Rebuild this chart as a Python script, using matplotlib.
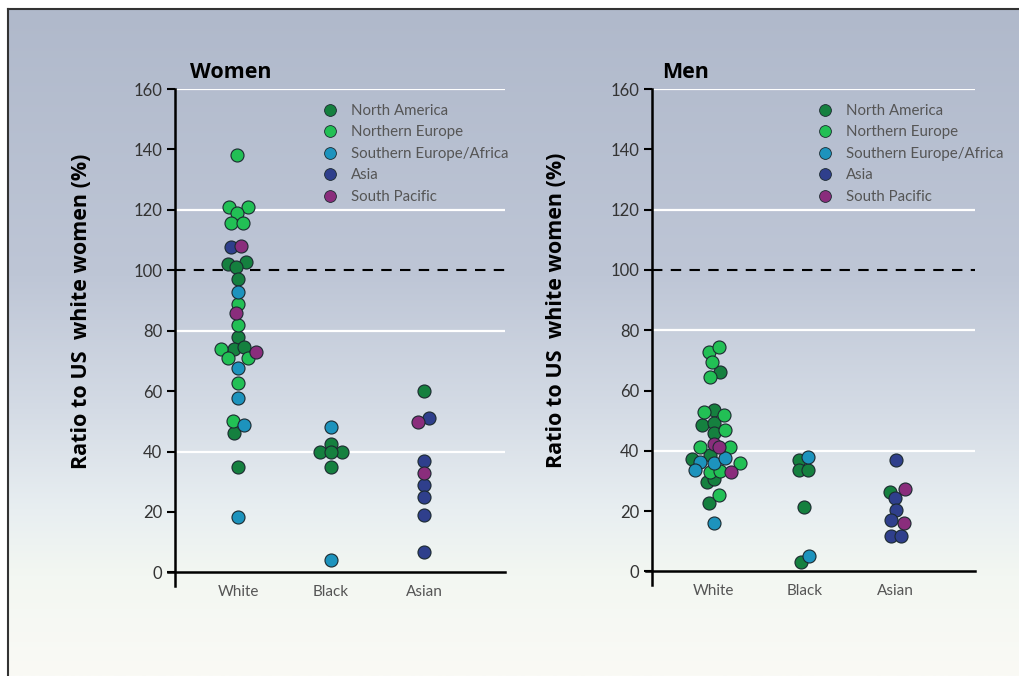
import matplotlib.pyplot as plt
from matplotlib.lines import Line2D
import numpy as np

categories = ["White", "Black", "Asian"]
regions = ["North America", "Northern Europe", "Southern Europe/Africa", "Asia", "South Pacific"]
colors = ["#15803f", "#22c055", "#1d93bd", "#2f3f8c", "#8a2d7c"]

# values, per region: category index, value, small sideways offset
women_na_cat = [0, 0, 0, 0, 0, 0, 0, 0, 0, 1, 1, 1, 1, 1, 2]
women_na_val = [102, 102.6, 101, 97, 78, 74, 74.5, 46, 35, 42.4, 40, 40, 39.7, 34.8, 60]
women_na_dx = [-10, 8, -2, 0, 0, -4, 6, -4, 0, 0, -11, 11, 0, 0, 0]

women_ne_cat = [0] * 13
women_ne_val = [138, 121, 121, 119, 115.5, 115.5, 89, 82, 74, 71, 71, 62.6, 50]
women_ne_dx = [-1, -9, 10, -1, -7, 5, 0, 0, -17, -10, 10, 0, -5]

women_se_cat = [0, 0, 0, 0, 0, 1, 1]
women_se_val = [92.7, 67.5, 57.6, 48.7, 18.2, 48, 4]
women_se_dx = [0, 0, 0, 6, 0, 0, 0]

women_as_cat = [0, 2, 2, 2, 2, 2, 2]
women_as_val = [107.6, 51, 36.8, 28.8, 25, 18.9, 6.6]
women_as_dx = [-7, 5, 0, 0, 0, 0, 0]

women_sp_cat = [0, 0, 0, 2, 2]
women_sp_val = [108, 85.7, 73, 49.7, 32.8]
women_sp_dx = [3, -2, 18, -6, 0]

men_na_cat = [0, 0, 0, 0, 0, 0, 0, 0, 0, 0, 1, 1, 1, 1, 1, 2]
men_na_val = [66, 53.6, 48.7, 49.3, 46, 38.7, 37.4, 29.5, 30.5, 22.8, 37, 33.8, 33.8, 21.5, 3, 26.5]
men_na_dx = [6, 0, -12, 0, 0, -4, -22, -7, 0, -5, -6, -6, 3, -1, -4, -6]

men_ne_cat = [0] * 13
men_ne_val = [72.8, 74.5, 69.5, 64.6, 53, 52, 47, 41.4, 41.4, 36, 33, 33.4, 25.5]
men_ne_dx = [-5, 5, -2, -4, -10, 10, 11, -14, 16, 26, -4, 6, 5]

men_se_cat = [0, 0, 0, 0, 0, 1, 1]
men_se_val = [36.4, 36, 37.7, 33.8, 16.2, 38, 5]
men_se_dx = [-14, 0, 11, -19, 0, 3, 4]

men_as_cat = [2, 2, 2, 2, 2, 2]
men_as_val = [37, 24.5, 20.5, 17.2, 11.6, 11.6]
men_as_dx = [0, -1, 0, -5, -5, 5]

men_sp_cat = [0, 0, 0, 2, 2]
men_sp_val = [42.4, 41.4, 33, 27.5, 16]
men_sp_dx = [0, 5, 17, 9, 8]

women = [(women_na_cat, women_na_val, women_na_dx), (women_ne_cat, women_ne_val, women_ne_dx),
         (women_se_cat, women_se_val, women_se_dx), (women_as_cat, women_as_val, women_as_dx),
         (women_sp_cat, women_sp_val, women_sp_dx)]
men = [(men_na_cat, men_na_val, men_na_dx), (men_ne_cat, men_ne_val, men_ne_dx),
       (men_se_cat, men_se_val, men_se_dx), (men_as_cat, men_as_val, men_as_dx),
       (men_sp_cat, men_sp_val, men_sp_dx)]

plt.rcParams['font.family'] = ['Lato', 'DejaVu Sans']
BOLD = ['Open Sans', 'DejaVu Sans']

fig = plt.figure(figsize=(10.2, 6.76), dpi=100)
fig.patch.set_facecolor('white')

# background gradient panel with thin dark border on top and left
bg = fig.add_axes([8 / 1020, 0, 1 - 8 / 1020, 1 - 9 / 676])
stops = np.array([0, 0.4, 0.6, 0.75, 0.85, 1.0])
cols = np.array([[176, 185, 203], [190, 198, 214], [212, 219, 229],
                 [232, 238, 241], [243, 247, 242], [250, 250, 245]]) / 255
t = np.linspace(0, 1, 300)
grad = np.stack([np.interp(t, stops, cols[:, k]) for k in range(3)], axis=1)
bg.imshow(grad[:, None, :], aspect='auto', extent=[0, 1, 0, 1])
bg.set_xlim(0, 1)
bg.set_ylim(0, 1)
bg.set_xticks([])
bg.set_yticks([])
for s in ['right', 'bottom']:
    bg.spines[s].set_visible(False)
for s in ['top', 'left']:
    bg.spines[s].set_color('#333333')
    bg.spines[s].set_linewidth(1.5)


def panel(rect, data, title, px_per_cat, title_x, leg_x, lab_x):
    ax = fig.add_axes(rect)
    ax.patch.set_alpha(0)
    ax.set_xlim(-0.68, 2.87)
    ax.set_ylim(-4.5, 160)
    for g in [40, 80, 120, 160]:
        ax.axhline(g, color='white', lw=1.6, zorder=1)
    ax.axhline(100, color='black', lw=1.5, ls=(0, (5, 4)), zorder=2)
    for (cat, val, dx), c in zip(data, colors):
        x = np.array(cat) + np.array(dx) / px_per_cat
        ax.scatter(x, val, s=88, color=c, edgecolors='#1c2a30', linewidths=0.8,
                   zorder=3, clip_on=False)
    ax.spines['top'].set_visible(False)
    ax.spines['right'].set_visible(False)
    ax.spines['bottom'].set_position(('data', 0))
    ax.spines['bottom'].set_bounds(-0.75, 2.87)
    for s in ['left', 'bottom']:
        ax.spines[s].set_linewidth(1.8)
    ax.set_yticks(range(0, 161, 20))
    ax.tick_params(axis='y', direction='out', length=6, width=1.5, labelsize=12,
                   labelcolor='#333333', pad=3)
    ax.set_xticks(range(3))
    ax.set_xticklabels(categories)
    ax.tick_params(axis='x', length=0, labelsize=11, labelcolor='#555555', pad=9)
    ax.set_ylabel('Ratio to US  white women (%)', fontsize=15.5, fontweight='bold',
                  color='black', family=BOLD)
    ax.yaxis.set_label_coords(lab_x, 0.553)
    ax.text(title_x, 1.022, title, transform=ax.transAxes, fontsize=15.5,
            fontweight='bold', ha='left', va='baseline', family=BOLD)
    handles = [Line2D([], [], marker='o', ls='', markersize=8.5, color=c,
                      markeredgecolor='#1c2a30', markeredgewidth=0.6) for c in colors]
    ax.legend(handles, regions, loc='upper left', bbox_to_anchor=(leg_x, 0.985),
              frameon=False, fontsize=10.8, labelspacing=0.5, handletextpad=0.9,
              handlelength=1.0, borderpad=0, labelcolor='#555555')
    return ax


panel([175 / 1020, 1 - 586 / 676, 330 / 1020, 497 / 676], women, 'Women', 93,
      0.045, 0.425, -0.25)
panel([652 / 1020, 1 - 585 / 676, 323 / 1020, 496 / 676], men, 'Men', 90.5,
      0.031, 0.49, -0.263)

fig.savefig('out.png', dpi=100)
